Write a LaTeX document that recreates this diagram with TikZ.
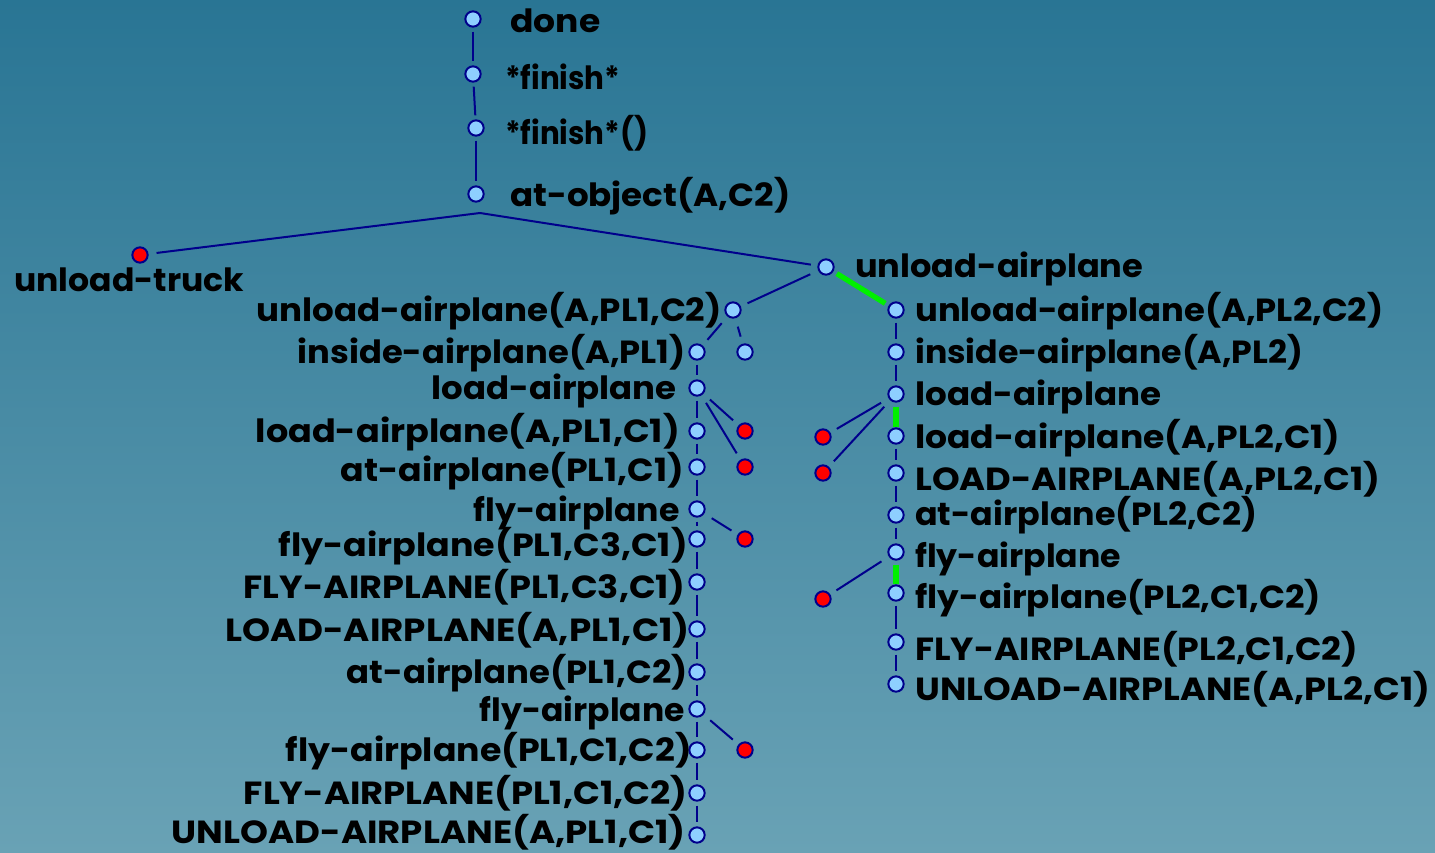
\documentclass[tikz,border=0pt]{standalone}
\usepackage{fontspec}
\usepackage{graphicx}
\setmainfont{Poppins}
\newlength\pxu \setlength\pxu{0.75pt}
\newcommand\lbl[2]{\resizebox{#1\pxu}{\height}{#2}}
\definecolor{bgtop}{RGB}{41,117,148}
\definecolor{bgbot}{RGB}{105,162,181}
\definecolor{dotfill}{RGB}{142,207,255}
\definecolor{navy}{RGB}{0,0,140}
\definecolor{hlgreen}{RGB}{0,240,0}
\begin{document}
\begin{tikzpicture}[x=0.75pt,y=-0.75pt,
  dot/.style={circle,minimum size=11.5pt,inner sep=0pt,fill=dotfill,draw=navy,line width=1.5pt},
  rdot/.style={dot,fill=red},
  lab/.style={inner sep=0pt,text=black,font=\fontsize{24}{28}\selectfont\bfseries},
  labw/.style={lab,anchor=base west},
  labe/.style={lab,anchor=base east},
  edge/.style={draw=navy,line width=1.5pt},
  vedge/.style={edge,shorten <=3pt,shorten >=3pt},
  dedge/.style={edge,shorten <=6.5pt,shorten >=5.5pt},
  gedge/.style={draw=hlgreen,line width=4pt,shorten <=3pt,shorten >=3pt},
  gvedge/.style={draw=hlgreen,line width=4.2pt,shorten <=3pt,shorten >=0pt}]
\useasboundingbox (0,0) rectangle (1435,853);
\shade[top color=bgtop,bottom color=bgbot] (0,0) rectangle (1435,853);
% top chain
\node[dot] (d1) at (473,19) {};
\node[dot] (d2) at (473,74) {};
\node[dot] (d3) at (476,128) {};
\node[dot] (d4) at (476,194) {};
\node[labw] (t1) at (510,32) {\lbl{90}{done}};
\node[labw] (t2) at (505,89) {\lbl{115}{*finish*}};
\node[labw] (t3) at (505,144) {\lbl{143}{*finish*()}};
\node[labw] (t4) at (510,206) {\lbl{280}{at-object(A,C2)}};
\coordinate (br) at (480,213);
\node[rdot] (truck) at (140,255) {};
\node[labw] (ttruck) at (14,291) {\lbl{230}{unload-truck}};
\node[dot] (ua) at (826,267) {};
\node[labw] (tua) at (855,277) {\lbl{288}{unload-airplane}};
% left branch
\node[dot] (L0) at (733,310) {};
\node[dot] (L0b) at (745,352) {};
\node[dot] (L1) at (697,352) {};
\node[dot] (L2) at (697,388) {};
\node[dot] (L3) at (697,431) {};
\node[dot] (L4) at (697,467) {};
\node[dot] (L5) at (697,509) {};
\node[dot] (L6) at (697,539) {};
\node[dot] (L7) at (697,582) {};
\node[dot] (L8) at (697,629) {};
\node[dot] (L9) at (697,672) {};
\node[dot] (L10) at (697,709) {};
\node[dot] (L11) at (697,750) {};
\node[dot] (L12) at (697,793) {};
\node[dot] (L13) at (697,835) {};
\node[rdot] (R1) at (745,431) {};
\node[rdot] (R2) at (745,467) {};
\node[rdot] (R3) at (745,539) {};
\node[rdot] (R4) at (745,750) {};
\node[labe] (tL0) at (722,321) {\lbl{465}{unload-airplane(A,PL1,C2)}};
\node[labe] (tL1) at (686,363) {\lbl{388}{inside-airplane(A,PL1)}};
\node[labe] (tL2) at (677,399) {\lbl{245}{load-airplane}};
\node[labe] (tL3) at (680,442) {\lbl{424}{load-airplane(A,PL1,C1)}};
\node[labe] (tL4) at (684,481) {\lbl{343}{at-airplane(PL1,C1)}};
\node[labe] (tL5) at (680,521) {\lbl{206}{fly-airplane}};
\node[labe] (tL6) at (688,556) {\lbl{409}{fly-airplane(PL1,C3,C1)}};
\node[labe] (tL7) at (686,598) {\lbl{442}{FLY-AIRPLANE(PL1,C3,C1)}};
\node[labe] (tL8) at (690,641) {\lbl{464}{LOAD-AIRPLANE(A,PL1,C1)}};
\node[labe] (tL9) at (688,683) {\lbl{341}{at-airplane(PL1,C2)}};
\node[labe] (tL10) at (685,721) {\lbl{205}{fly-airplane}};
\node[labe] (tL11) at (692,761) {\lbl{406}{fly-airplane(PL1,C1,C2)}};
\node[labe] (tL12) at (688,804) {\lbl{444}{FLY-AIRPLANE(PL1,C1,C2)}};
\node[labe] (tL13) at (686,843) {\lbl{514}{UNLOAD-AIRPLANE(A,PL1,C1)}};
% right branch
\node[dot] (Q0) at (896,310) {};
\node[dot] (Q1) at (896,352) {};
\node[dot] (Q2) at (896,394) {};
\node[dot] (Q3) at (896,436) {};
\node[dot] (Q4) at (896,473) {};
\node[dot] (Q5) at (896,515) {};
\node[dot] (Q6) at (896,552) {};
\node[dot] (Q7) at (896,593) {};
\node[dot] (Q8) at (896,642) {};
\node[dot] (Q9) at (896,684) {};
\node[rdot] (S1) at (823,437) {};
\node[rdot] (S2) at (823,473) {};
\node[rdot] (S3) at (823,599) {};
\node[labw] (tQ0) at (915,321) {\lbl{468}{unload-airplane(A,PL2,C2)}};
\node[labw] (tQ1) at (915,363) {\lbl{388}{inside-airplane(A,PL2)}};
\node[labw] (tQ2) at (915,405) {\lbl{246}{load-airplane}};
\node[labw] (tQ3) at (915,448) {\lbl{425}{load-airplane(A,PL2,C1)}};
\node[labw] (tQ4) at (915,490) {\lbl{465}{LOAD-AIRPLANE(A,PL2,C1)}};
\node[labw] (tQ5) at (915,525) {\lbl{342}{at-airplane(PL2,C2)}};
\node[labw] (tQ6) at (915,567) {\lbl{206}{fly-airplane}};
\node[labw] (tQ7) at (915,608) {\lbl{406}{fly-airplane(PL2,C1,C2)}};
\node[labw] (tQ8) at (915,660) {\lbl{443}{FLY-AIRPLANE(PL2,C1,C2)}};
\node[labw] (tQ9) at (915,700) {\lbl{515}{UNLOAD-AIRPLANE(A,PL2,C1)}};
% connectors
\draw[vedge] (d1) -- (d2);
\draw[vedge] (d2) -- (d3);
\draw[vedge] (d3) -- (d4);
\draw[edge,shorten >=6pt] (br) -- (truck);
\draw[edge,shorten >=5pt] (br) -- (ua);
\draw[dedge] (ua) -- (L0);
\draw[gedge] (ua) -- (Q0);
\draw[dedge] (L0) -- (L1);
\draw[dedge] (L0) -- (L0b);
\foreach \a/\b in {L1/L2,L2/L3,L3/L4,L4/L5,L5/L6,L6/L7,L7/L8,L8/L9,L9/L10,L10/L11,L11/L12,L12/L13,Q0/Q1,Q1/Q2,Q3/Q4,Q4/Q5,Q5/Q6,Q7/Q8,Q8/Q9}
  \draw[vedge] (\a) -- (\b);
\draw[gvedge] (Q2) -- (Q3);
\draw[gvedge] (Q6) -- (Q7);
\draw[dedge] (L2) -- (R1);
\draw[dedge] (L2) -- (R2);
\draw[dedge] (L5) -- (R3);
\draw[dedge] (L10) -- (R4);
\draw[dedge] (Q2) -- (S1);
\draw[dedge] (Q2) -- (S2);
\draw[dedge] (Q6) -- (S3);
\end{tikzpicture}
\end{document}
